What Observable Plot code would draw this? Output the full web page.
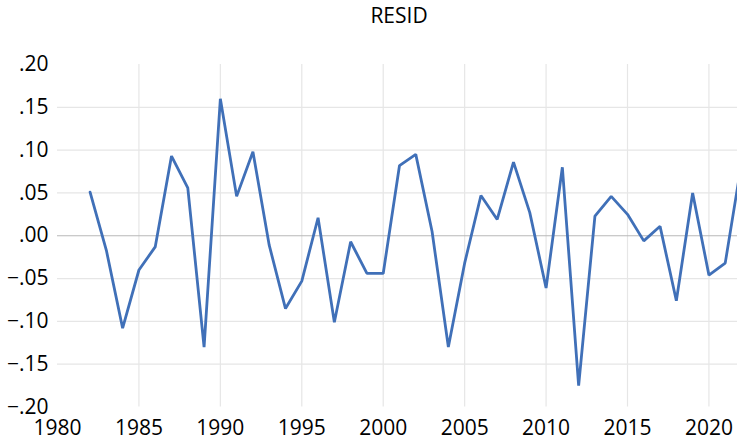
<!DOCTYPE html>
<html>
<head>
<meta charset="utf-8">
<script src="https://cdn.jsdelivr.net/npm/d3@7"></script>
<script src="https://cdn.jsdelivr.net/npm/@observablehq/plot@0.6"></script>
<style>
  html, body { margin: 0; padding: 0; background: #fff; }
  #wrap { width: 737px; height: 441px; overflow: hidden; position: relative; }
  #title { position: absolute; left: 0; top: 0; width: 798px; text-align: center;
           font-family: "Open Sans", sans-serif; font-size: 21px; color: #000; line-height: 30px; }
  #chart { position: absolute; left: 0; top: 30px; width: 741px; }
  #chart svg { max-width: none !important; }
</style>
</head>
<body>
<div id="wrap">
  <div id="title">RESID</div>
  <div id="chart"></div>
</div>
<script>
const title = "RESID";
const years = [1982,1983,1984,1985,1986,1987,1988,1989,1990,1991,1992,1993,1994,1995,1996,1997,1998,1999,2000,2001,
               2002,2003,2004,2005,2006,2007,2008,2009,2010,2011,2012,2013,2014,2015,2016,2017,2018,2019,2020,2021,2022];
const resid = [0.051,-0.017,-0.108,-0.040,-0.013,0.093,0.056,-0.130,0.160,0.046,0.098,-0.011,-0.085,-0.053,0.021,-0.101,-0.007,-0.044,-0.044,0.082,
               0.095,0.005,-0.130,-0.032,0.047,0.019,0.086,0.027,-0.061,0.080,-0.175,0.023,0.046,0.025,-0.006,0.011,-0.076,0.050,-0.046,-0.032,0.085];
const xTicks = [1980,1985,1990,1995,2000,2005,2010,2015,2020];
const xGrid = [1985,1990,1995,2000,2005,2010,2015,2020];
const yTicks = [-0.20,-0.15,-0.10,-0.05,0.00,0.05,0.10,0.15,0.20];
const yGrid = [-0.15,-0.10,-0.05,0.05,0.10,0.15];

const data = years.map((y, i) => ({year: y, value: resid[i]}));
const fmtY = v => d3.format(".2f")(v).replace("0.", ".");

const chart = Plot.plot({
  width: 741,
  height: 411,
  marginLeft: 57,
  marginRight: 0,
  marginTop: 34,
  marginBottom: 34.5,
  style: {fontFamily: "'Open Sans', sans-serif", fontSize: "21px", color: "#000", background: "transparent", maxWidth: "none"},
  x: {domain: [1980, 2022], ticks: xTicks, tickFormat: d => String(d), tickSize: 0, tickPadding: 13.5, label: null},
  y: {domain: [-0.20, 0.20], ticks: yTicks, tickFormat: fmtY, tickSize: 0, tickPadding: 9, label: null},
  marks: [
    Plot.ruleX(xGrid, {stroke: "#e6e6e6", strokeWidth: 1.2, strokeOpacity: 1}),
    Plot.ruleY(yGrid, {stroke: "#e6e6e6", strokeWidth: 1.2, strokeOpacity: 1}),
    Plot.ruleY([0], {stroke: "#b8b8b8", strokeWidth: 1.2}),
    Plot.line(data, {x: "year", y: "value", stroke: "#4070b8", strokeWidth: 2.8, strokeLinejoin: "miter"})
  ]
});
document.getElementById("chart").appendChild(chart);
</script>
</body>
</html>
